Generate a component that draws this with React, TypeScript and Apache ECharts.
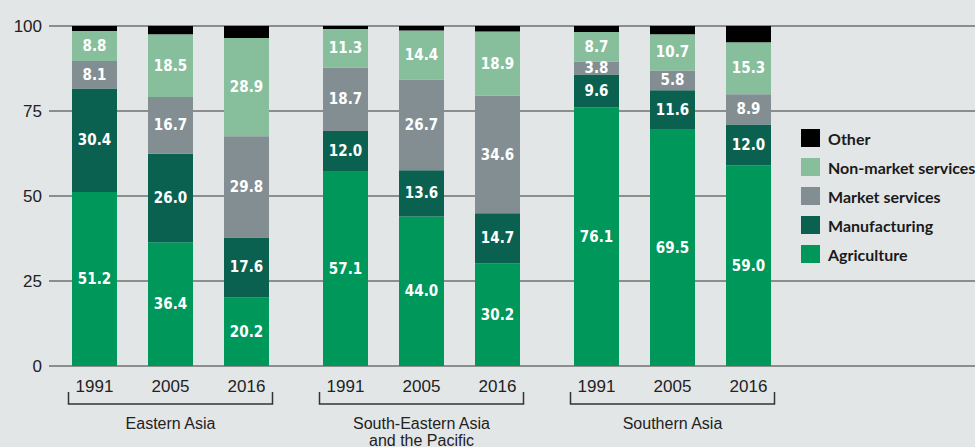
import React, { useEffect, useRef } from "react";
import * as echarts from "echarts";

const groups = ["Eastern Asia", "South-Eastern Asia\nand the Pacific", "Southern Asia"];
const years = ["1991", "2005", "2016"];
const yTicks = [0, 25, 50, 75, 100];

// values ordered: Eastern Asia (1991, 2005, 2016), South-Eastern Asia (...), Southern Asia (...)
const agriculture = [51.2, 36.4, 20.2, 57.1, 44.0, 30.2, 76.1, 69.5, 59.0];
const manufacturing = [30.4, 26.0, 17.6, 12.0, 13.6, 14.7, 9.6, 11.6, 12.0];
const marketServices = [8.1, 16.7, 29.8, 18.7, 26.7, 34.6, 3.8, 5.8, 8.9];
const nonMarketServices = [8.8, 18.5, 28.9, 11.3, 14.4, 18.9, 8.7, 10.7, 15.3];
const other = [1.5, 2.4, 3.5, 0.9, 1.3, 1.6, 1.8, 2.4, 4.8];

const sectors = [
  { name: "Agriculture", values: agriculture, color: "#00975b", label: true },
  { name: "Manufacturing", values: manufacturing, color: "#0b6150", label: true },
  { name: "Market services", values: marketServices, color: "#838e93", label: true },
  { name: "Non-market services", values: nonMarketServices, color: "#87bf9d", label: true },
  { name: "Other", values: other, color: "#000000", label: false },
];
const legendOrder = ["Other", "Non-market services", "Market services", "Manufacturing", "Agriculture"];

const BG = "#e3e6e7";
const NARROW = "'Liberation Sans Narrow', 'DejaVu Sans Condensed', sans-serif";
const LEGEND_FONT = "Lato, 'DejaVu Sans Condensed', sans-serif";
const REG = "'Liberation Sans', Arial, sans-serif";

const GRID_TOP = 26;
const GRID_BOTTOM = 81;
const GROUP_LEFT0 = 56.5;
const GROUP_STEP = 251;
const GROUP_WIDTH = 228;

export default function App() {
  const ref = useRef<HTMLDivElement>(null);
  useEffect(() => {
    if (!ref.current) return;
    const chart = echarts.init(ref.current, undefined, { renderer: "svg" });

    const grids: any[] = [{ left: 49, right: 0, top: GRID_TOP, bottom: GRID_BOTTOM }];
    const xAxes: any[] = [{ type: "category", gridIndex: 0, data: [""], show: false }];
    const yAxes: any[] = [
      {
        type: "value",
        gridIndex: 0,
        min: yTicks[0],
        max: yTicks[yTicks.length - 1],
        interval: yTicks[1] - yTicks[0],
        axisLine: { show: false },
        axisTick: { show: false },
        axisLabel: { fontSize: 17, color: "#222", margin: 7, fontFamily: REG },
        splitLine: { lineStyle: { color: "#6f6f6f", width: 1.6 } },
      },
    ];
    const series: any[] = [];
    const graphics: any[] = [];

    groups.forEach((g, gi) => {
      const left = GROUP_LEFT0 + gi * GROUP_STEP;
      grids.push({ left, width: GROUP_WIDTH, top: GRID_TOP, bottom: GRID_BOTTOM });
      xAxes.push({
        type: "category",
        gridIndex: gi + 1,
        data: years,
        axisLine: { show: false },
        axisTick: { show: false },
        axisLabel: { fontSize: 17, color: "#222", margin: 12, fontFamily: REG },
      });
      yAxes.push({ type: "value", gridIndex: gi + 1, min: 0, max: 100, show: false });
      sectors.forEach((s) => {
        series.push({
          type: "bar",
          name: s.name,
          xAxisIndex: gi + 1,
          yAxisIndex: gi + 1,
          stack: "g" + gi,
          barWidth: 45,
          data: s.values.slice(gi * 3, gi * 3 + 3),
          itemStyle: { color: s.color },
          emphasis: { disabled: true },
          label: {
            show: s.label,
            position: "inside",
            color: "#fff",
            fontSize: 15,
            fontWeight: "bold",
            fontFamily: NARROW,
            formatter: (p: any) => Number(p.value).toFixed(1),
          },
        });
      });
      // bracket under each group
      const x1 = left + 12;
      const x2 = left + GROUP_WIDTH - 12;
      graphics.push({
        type: "polyline",
        shape: { points: [[x1, 392], [x1, 404], [x2, 404], [x2, 392]] },
        style: { stroke: "#333", lineWidth: 1.5, fill: "none" },
        silent: true,
      });
      graphics.push({
        type: "text",
        x: left + GROUP_WIDTH / 2,
        y: 414.5,
        style: {
          text: g,
          fill: "#222",
          fontSize: 16,
          fontFamily: REG,
          align: "center",
          verticalAlign: "top",
          lineHeight: 17,
        },
        silent: true,
      });
    });

    chart.setOption({
      animation: false,
      backgroundColor: BG,
      grid: grids,
      xAxis: xAxes,
      yAxis: yAxes,
      legend: {
        data: legendOrder,
        orient: "vertical",
        left: 771,
        top: 112,
        itemWidth: 19,
        itemHeight: 18,
        itemGap: 11,
        icon: "rect",
        padding: [17, 0, 17, 30],
        backgroundColor: BG,
        selectedMode: false,
        textStyle: {
          fontSize: 16,
          fontWeight: "bold",
          color: "#1a1a1a",
          fontFamily: LEGEND_FONT,
          padding: [0, 0, 0, 3],
        },
      },
      series,
      graphic: graphics,
    });

    return () => chart.dispose();
  }, []);
  return <div ref={ref} style={{ position: "fixed", left: 0, top: 0, width: 975, height: 447 }} />;
}
